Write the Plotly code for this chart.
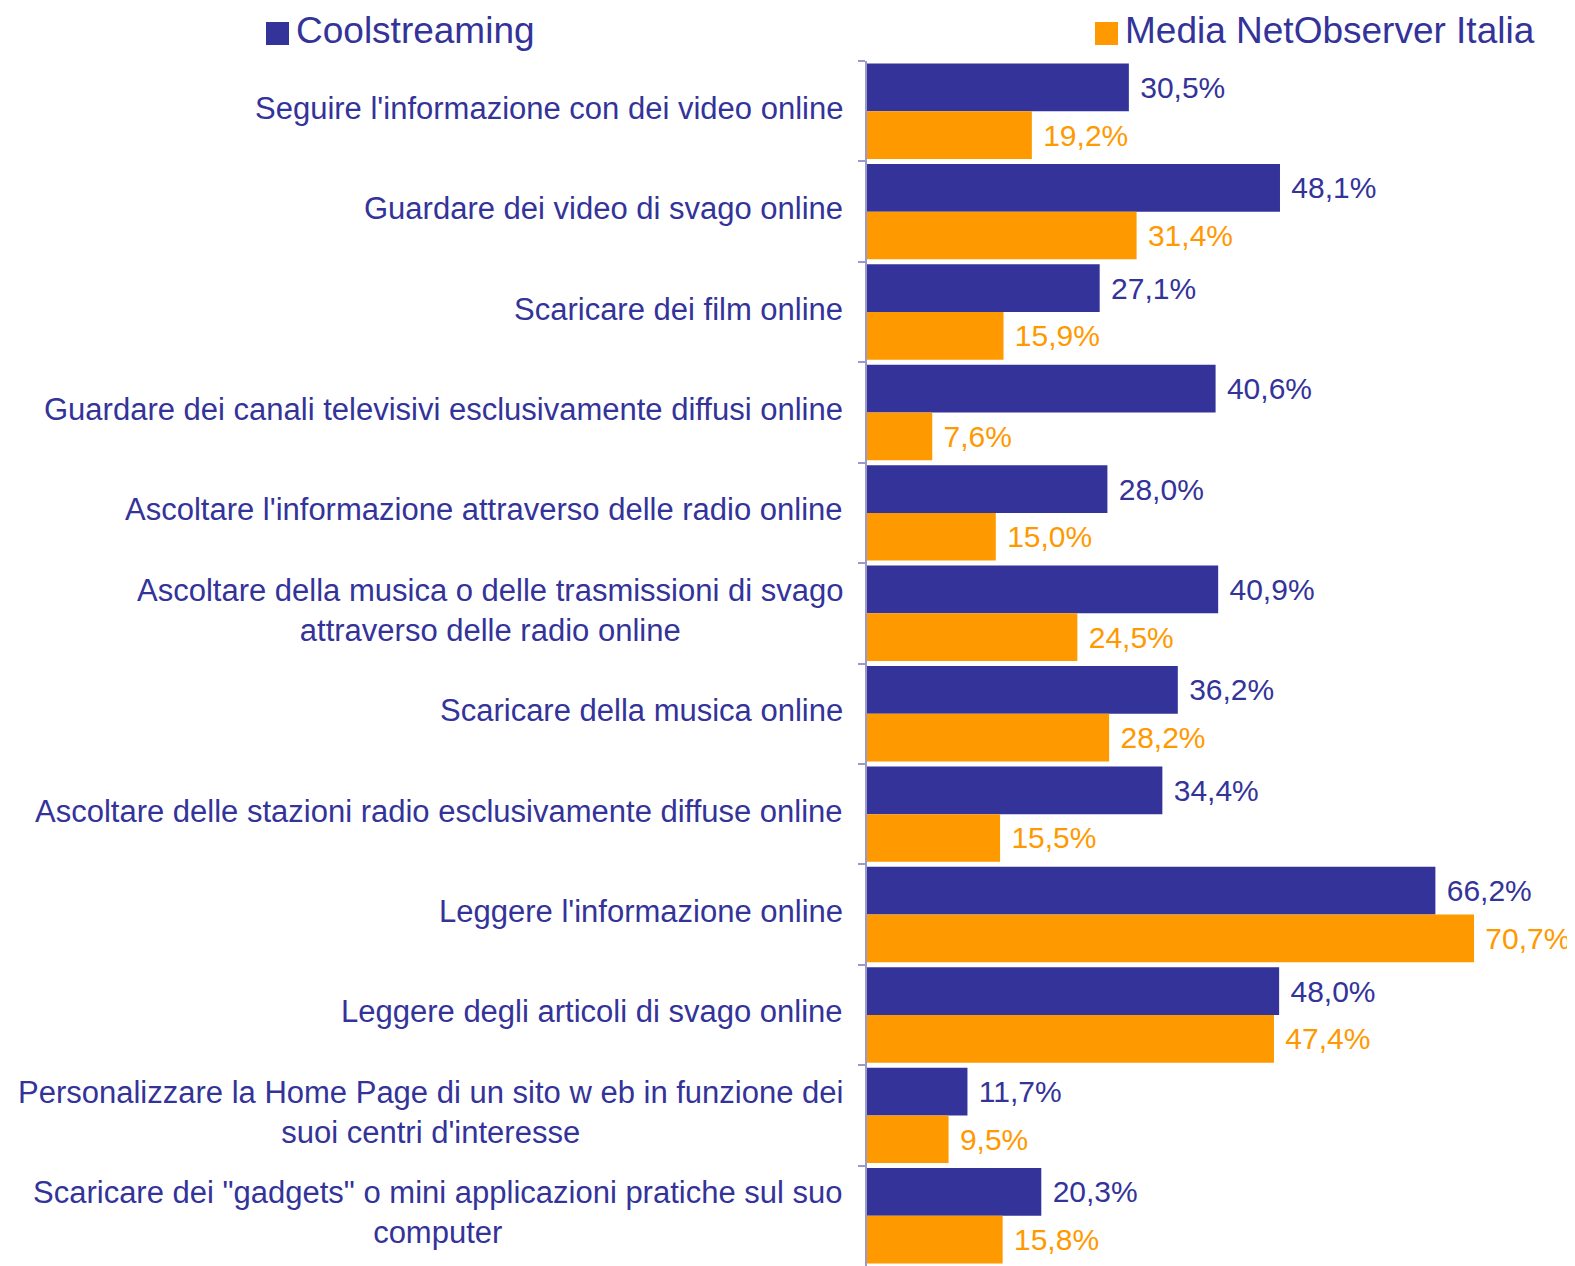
import plotly.graph_objects as go

categories = [
    "Seguire l'informazione con dei video online",
    "Guardare dei video di svago online",
    "Scaricare dei film online",
    "Guardare dei canali televisivi esclusivamente diffusi online",
    "Ascoltare l'informazione attraverso delle radio online",
    "Ascoltare della musica o delle trasmissioni di svago<br>attraverso delle radio online",
    "Scaricare della musica online",
    "Ascoltare delle stazioni radio esclusivamente diffuse online",
    "Leggere l'informazione online",
    "Leggere degli articoli di svago online",
    "Personalizzare la Home Page di un sito w eb in funzione dei<br>suoi centri d'interesse",
    "Scaricare dei \"gadgets\" o mini applicazioni pratiche sul suo<br>computer",
]
coolstreaming = [30.5, 48.1, 27.1, 40.6, 28.0, 40.9, 36.2, 34.4, 66.2, 48.0, 11.7, 20.3]
media_nos = [19.2, 31.4, 15.9, 7.6, 15.0, 24.5, 28.2, 15.5, 70.7, 47.4, 9.5, 15.8]
series_names = ["Coolstreaming", "Media NetObserver Italia"]

BLUE = "#333399"
ORANGE = "#FF9900"
FONT = "Liberation Sans, Arial, sans-serif"

# the page body adds an 8px offset; layout is expressed in target-pixel terms
OFF = 8
W, H = 1575 - OFF, 1266 - OFF
ML, MT = 867 - OFF, 61 - OFF
PW, PH = W - ML, H - MT

fig = go.Figure()
for name, vals, col in [(series_names[0], coolstreaming, BLUE), (series_names[1], media_nos, ORANGE)]:
    fig.add_trace(go.Bar(
        y=categories, x=vals, orientation="h", name=name,
        marker=dict(color=col, line=dict(width=0)),
        texttemplate="\u00a0%{x:.1f}%", textposition="outside",
        textfont=dict(family=FONT, size=30, color=col),
        constraintext="none", cliponaxis=False,
    ))

annotations = []
for c in categories:
    annotations.append(dict(
        x=0, xref="paper", y=c, yref="y", text=c, showarrow=False,
        xanchor="right", yanchor="middle", align="center", xshift=-22, yshift=3,
        font=dict(family=FONT, size=31, color=BLUE),
    ))

def px_x(p):
    return (p - OFF - ML) / PW

def px_y(p):
    return 1 + (MT - (p - OFF)) / PH

shapes = []
legend_items = [(series_names[0], BLUE, 266), (series_names[1], ORANGE, 1095)]
for name, col, left in legend_items:
    shapes.append(dict(type="rect", xref="paper", yref="paper",
                       x0=px_x(left), x1=px_x(left + 23), y0=px_y(45), y1=px_y(22),
                       fillcolor=col, line=dict(width=0)))
    annotations.append(dict(
        x=px_x(left + 28), xref="paper", y=px_y(30), yref="paper", text=name,
        showarrow=False, xanchor="left", yanchor="middle",
        font=dict(family=FONT, size=37, color=BLUE),
    ))

fig.update_layout(
    width=W, height=H,
    margin=dict(l=ML, r=0, t=MT, b=0, pad=0),
    paper_bgcolor="white", plot_bgcolor="white",
    barmode="group", bargap=0.05, bargroupgap=0,
    separators=",.",
    showlegend=False,
    annotations=annotations, shapes=shapes,
    xaxis=dict(range=[0, PW / 8.586], visible=False, fixedrange=True),
    yaxis=dict(
        autorange="reversed", showticklabels=False,
        showline=True, linecolor="#9999CC", linewidth=2,
        ticks="outside", tickson="boundaries", ticklen=7, tickcolor="#9999CC", tickwidth=2,
        showgrid=False, zeroline=False,
    ),
)

fig.write_html("out.html")
